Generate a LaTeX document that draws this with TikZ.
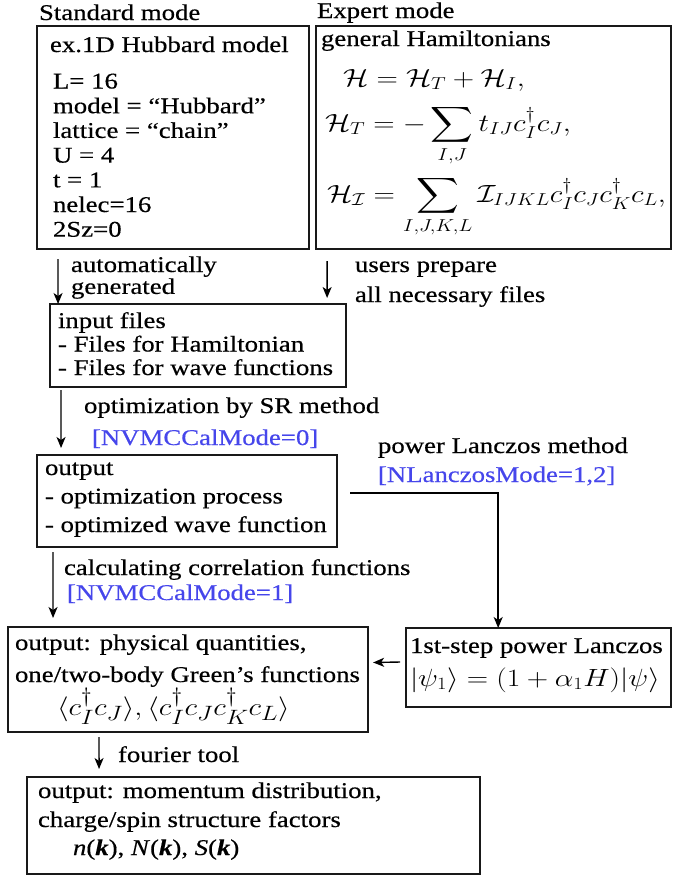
\documentclass[tikz,border=0pt]{standalone}
\usepackage{amsmath}
\usepackage{fontspec}
\setmainfont{Liberation Serif}[FakeBold=0.4]
\usetikzlibrary{arrows.meta,fit,calc}
\definecolor{lblue}{RGB}{70,70,235}
\newcommand{\fsz}[1]{\fontsize{22.5}{#1}\selectfont}
\newcommand{\msz}[1]{\fontsize{#1}{#1}\selectfont}
\newcommand{\rows}[1]{\begin{tabular}[t]{@{}l@{}}#1\end{tabular}}
\begin{document}
\begin{tikzpicture}[x=0.840336pt, y=-1pt, xscale=1.19,
  txt/.style={anchor=base west, inner sep=0pt, outer sep=0pt, transform shape, font=\fsz{24.7}},
  blu/.style={txt, text=lblue},
  box/.style={draw=black!90, line width=1.6pt, inner sep=0pt, outer sep=0pt},
  arr/.style={line width=1.4pt, -{Stealth[length=11pt,width=9pt,inset=3pt]}}
]
\useasboundingbox (0,0) rectangle (673,879);

% boxes
\node[box, fit={(37,26) (309,249)}] (std) {};
\node[box, fit={(316,26) (671,249)}] (exp) {};
\node[box, fit={(50,304) (346,387)}] (inp) {};
\node[box, fit={(37,455) (337,547)}] (out) {};
\node[box, fit={(8,627) (368,732)}] (phys) {};
\node[box, fit={(406,628) (671,707)}] (lanc) {};
\node[box, fit={(27,777) (480,874)}] (fin) {};

% titles
\node[txt] (tstd) at (39,20) {Standard mode};
\node[txt] (texp) at (317,18) {Expert mode};

% standard box text
\node[txt] (hub) at (50,52) {ex.1D Hubbard model};
\node[txt, font=\fsz{24.7}] (par) at (53,88.5) {\rows{L= 16\\model = “Hubbard”\\lattice = “chain”\\U = 4\\t = 1\\nelec=16\\2Sz=0}};

% expert box text
\node[txt] (gen) at (321,46) {general Hamiltonians};
\node[txt, font=\msz{24}] (eq1) at (343,86) {$\mathcal{H}=\mathcal{H}_T+\mathcal{H}_I,$};
\node[txt, font=\msz{23.5}] (eq2) at (325,131) {$\displaystyle \mathcal{H}_T=-\sum_{I,J}t_{IJ}c_I^{\dagger}c_J,$};
\node[txt, font=\msz{24}] (eq3) at (327,202) {$\displaystyle \mathcal{H}_{\mathcal{I}}=\sum_{I,J,K,L}\mathcal{I}_{IJKL}c_I^{\dagger}c_Jc_K^{\dagger}c_L,$};

% arrow labels
\node[txt, font=\fsz{21}] (lauto) at (71,272) {\rows{automatically\\generated}};
\node[txt, font=\fsz{30}] (luser) at (355,272) {\rows{users prepare\\all necessary files}};

% input box text
\node[txt, font=\fsz{23.5}] (inptxt) at (58,328) {\rows{input files\\- Files for Hamiltonian\\- Files for wave functions}};

\node[txt] (lopt) at (84,413) {optimization by SR method};
\node[blu] (lopt2) at (92,445) {[NVMCCalMode=0]};

% output box text
\node[txt, font=\fsz{28.5}] (outtxt) at (45,475) {\rows{output\\- optimization process\\- optimized wave function}};

\node[txt] (llan) at (378,453) {power Lanczos method};
\node[blu] (llan2) at (378,482) {[NLanczosMode=1,2]};

\node[txt] (lcalc) at (64,575) {calculating correlation functions};
\node[blu] (lcalc2) at (67,600) {[NVMCCalMode=1]};

% physical box text
\node[txt, font=\fsz{32}] (phystxt) at (15,650) {\rows{output: physical quantities,\\one/two-body Green’s functions}};
\node[txt, font=\msz{27.5}] (physeq) at (57,715) {$\langle c_I^{\dagger}c_J\rangle,\langle c_I^{\dagger}c_Jc_K^{\dagger}c_L\rangle$};

% Lanczos box text
\node[txt] (lanctxt) at (410,653) {1st-step power Lanczos};
\node[txt, font=\msz{23}] (lanceq) at (410,686) {$|\psi_1\rangle=(1+\alpha_1H)|\psi\rangle$};

\node[txt] (lfour) at (118,762) {fourier tool};

% final box text
\node[txt, font=\fsz{29}] (fintxt) at (38,798) {\rows{output: momentum distribution,\\charge/spin structure factors}};
\node[txt] (fineq) at (73,855) {\textit{n}(\textbf{\textit{k}}), \textit{N}(\textbf{\textit{k}}), \textit{S}(\textbf{\textit{k}})};

% connectors
\draw[arr] ($(std.south west)+(21,10)$) -- ($(inp.north west)+(8,0)$);
\draw[arr] ($(exp.south west)+(11,12)$) -- ($(inp.north east)+(-19,-6)$);
\draw[arr] ($(inp.south west)+(11,3)$) -- ($(out.north west)+(24,-7)$);
\draw[arr] ($(out.south west)+(16,5)$) -- ($(phys.north west)+(45,-9)$);
\draw[arr] ($(out.east)+(13,-8)$) -| ($(lanc.north west)+(92,0)$);
\draw[arr] ($(lanc.west)+(-6,-5.5)$) -- ($(phys.east)+(5,-17)$);
\draw[arr] ($(phys.south west)+(91,5)$) -- ($(fin.north west)+(72,-8)$);
\end{tikzpicture}
\end{document}
